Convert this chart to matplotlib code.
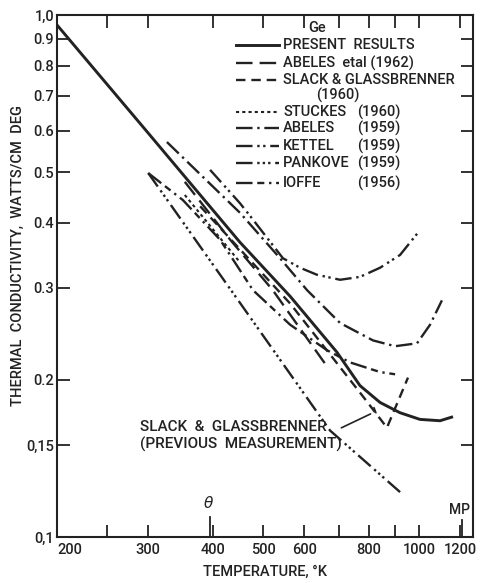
import matplotlib
matplotlib.use("Agg")
import matplotlib.pyplot as plt
from matplotlib.lines import Line2D

# ---------------- data (T in K, k in W/cm K) ----------------
present_T = [200, 300, 451, 564, 694, 769, 841, 919, 1004, 1098, 1163]
present_k = [0.957, 0.594, 0.367, 0.289, 0.226, 0.195, 0.181, 0.173, 0.168, 0.167, 0.170]

kettel_T = [395, 451, 472, 546, 589, 635, 704, 769, 841, 919, 1004]
kettel_k = [0.505, 0.436, 0.412, 0.342, 0.328, 0.318, 0.311, 0.315, 0.328, 0.347, 0.387]

abeles59_T = [326, 451, 539, 608, 704, 815, 899, 991, 1050, 1107]
abeles59_k = [0.571, 0.418, 0.342, 0.297, 0.257, 0.238, 0.232, 0.235, 0.255, 0.284]

ioffe_T = [300, 350, 413, 478, 564, 664, 736, 841, 899]
ioffe_k = [0.498, 0.442, 0.371, 0.297, 0.255, 0.228, 0.216, 0.207, 0.205]

abeles62_T = [353, 432, 522, 667]
abeles62_k = [0.479, 0.371, 0.297, 0.211]

pankove_T = [300, 451, 673, 927]
pankove_k = [0.498, 0.281, 0.160, 0.121]

slack_T = [378, 564, 779, 867, 952]
slack_k = [0.430, 0.280, 0.186, 0.162, 0.202]

stuckes_T = [353, 451]
stuckes_k = [0.452, 0.336]

xticks_major = [200, 300, 400, 500, 600, 800, 1000, 1200]
xticks_minor = [250, 700, 900]
yticks = [0.1, 0.15, 0.2, 0.3, 0.4, 0.5, 0.6, 0.7, 0.8, 0.9, 1.0]
ytick_labels = ["0,1", "0,15", "0.2", "0.3", "0.4", "0.5", "0.6", "0.7", "0.8", "0.9", "1,0"]

legend_names = ["PRESENT  RESULTS", "ABELES  etal (1962)", "SLACK & GLASSBRENNER",
                "STUCKES", "ABELES", "KETTEL", "PANKOVE", "IOFFE"]
legend_years = [None, None, None, "(1960)", "(1959)", "(1959)", "(1959)", "(1956)"]

# ---------------- styling ----------------
INK = "#222222"
plt.rcParams['font.family'] = ['Roboto', 'DejaVu Sans']
FS = 10.5
FW = "medium"

styles = {
    "present": dict(ls="-", lw=2.1),
    "abeles62": dict(ls=(0, (7, 3)), lw=1.7),
    "slack": dict(ls=(0, (4, 2.5)), lw=1.7),
    "stuckes": dict(ls=(0, (1.5, 1.5)), lw=1.5),
    "abeles59": dict(ls=(0, (7, 2, 1, 2)), lw=1.7),
    "kettel": dict(ls=(0, (7, 2, 1, 1.5, 1, 2)), lw=1.7),
    "pankove": dict(ls=(0, (7, 2, 1, 1.3, 1, 1.3, 1, 2)), lw=1.7),
    "ioffe": dict(ls=(0, (7, 2, 3, 2, 1, 2)), lw=1.7),
}

fig = plt.figure(figsize=(4.8, 5.83), dpi=100)
ax = fig.add_axes([57/480, 1-537/583, 416/480, 522/583])
ax.set_xscale("log")
ax.set_yscale("log")
ax.set_xlim(200, 1271)
ax.set_ylim(0.1, 1.0)

series = [
    (present_T, present_k, "present"),
    (abeles62_T, abeles62_k, "abeles62"),
    (slack_T, slack_k, "slack"),
    (stuckes_T, stuckes_k, "stuckes"),
    (abeles59_T, abeles59_k, "abeles59"),
    (kettel_T, kettel_k, "kettel"),
    (pankove_T, pankove_k, "pankove"),
    (ioffe_T, ioffe_k, "ioffe"),
]
for T, k, key in series:
    ax.plot(T, k, color=INK, solid_capstyle="butt", dash_capstyle="butt", **styles[key])

# axes / ticks
for s in ax.spines.values():
    s.set_color(INK)
    s.set_linewidth(1.5)
ax.set_xticks(xticks_major)
ax.set_xticklabels([str(v) for v in xticks_major])
ax.set_xticks(xticks_minor, minor=True)
ax.set_xticklabels([], minor=True)
ax.set_yticks(yticks)
ax.set_yticklabels(ytick_labels)
ax.yaxis.set_minor_locator(matplotlib.ticker.NullLocator())
ax.tick_params(which="both", direction="in", length=9, width=1.3, color=INK,
               top=True, right=True, labelsize=FS, labelcolor=INK, pad=4)
ax.tick_params(axis="y", pad=2)
for lab in ax.get_xticklabels() + ax.get_yticklabels():
    lab.set_fontweight(FW)
for lab in ax.get_xticklabels():
    if lab.get_text() == "200":
        lab.set_horizontalalignment("left")

ax.set_xlabel("TEMPERATURE, °K", fontsize=FS, color=INK, labelpad=6, fontweight=FW)
ax.set_ylabel("THERMAL  CONDUCTIVITY,  WATTS/CM  DEG", fontsize=FS, color=INK,
              fontweight=FW)
ax.yaxis.set_label_coords(-0.077, 0.54)

# theta and MP markers
ax.plot([395, 395], [0.1, 0.109], color=INK, lw=1.3)
ax.text(392, 0.112, "θ", fontsize=11, style="italic", ha="center", va="bottom", color=INK,
        family="DejaVu Sans")
ax.plot([1210, 1210], [0.1, 0.108], color=INK, lw=1.3)
ax.text(1195, 0.109, "MP", fontsize=FS - 0.5, ha="center", va="bottom", color=INK, fontweight=FW)

# legend (manual)
def ax_xy(px, py):
    return (px - 57) / 416, (537 - py) / 522

ax.text(*ax_xy(317, 28), "Ge", transform=ax.transAxes, fontsize=FS, ha="center", va="center",
        color=INK, fontweight=FW)
rows = [45, 63, 80, 112, 128, 146, 163, 183]
keys = ["present", "abeles62", "slack", "stuckes", "abeles59", "kettel", "pankove", "ioffe"]
for ry, key, name, yr in zip(rows, keys, legend_names, legend_years):
    x0, y0 = ax_xy(236, ry)
    x1, _ = ax_xy(279, ry)
    ax.add_line(Line2D([x0, x1], [y0, y0], transform=ax.transAxes, color=INK,
                       dash_capstyle="butt", **styles[key]))
    tx, ty = ax_xy(283, ry)
    ax.text(tx, ty, name, transform=ax.transAxes, fontsize=FS, va="center", ha="left",
            color=INK, fontweight=FW)
    if yr:
        yx, _ = ax_xy(357, ry)
        ax.text(yx, ty, yr, transform=ax.transAxes, fontsize=FS, va="center", ha="left",
                color=INK, fontweight=FW)
tx, ty = ax_xy(316, 95)
ax.text(tx, ty, "(1960)", transform=ax.transAxes, fontsize=FS, va="center", ha="left",
        color=INK, fontweight=FW)

# annotation
tx, ty = ax_xy(140, 427)
ax.text(tx, ty, "SLACK  &  GLASSBRENNER", transform=ax.transAxes, fontsize=FS + 0.5,
        va="center", ha="left", color=INK, fontweight=FW)
tx, ty = ax_xy(140, 444)
ax.text(tx, ty, "(PREVIOUS  MEASUREMENT)", transform=ax.transAxes, fontsize=FS + 0.5,
        va="center", ha="left", color=INK, fontweight=FW)
ax.annotate("", xy=(815, 0.173), xytext=(700, 0.161),
            arrowprops=dict(arrowstyle="-", color=INK, lw=1.2))
ax.annotate("", xy=(829, 0.171), xytext=(815, 0.179),
            arrowprops=dict(arrowstyle="-", color=INK, lw=1.2))

fig.savefig("out.png", dpi=100, facecolor="white")
